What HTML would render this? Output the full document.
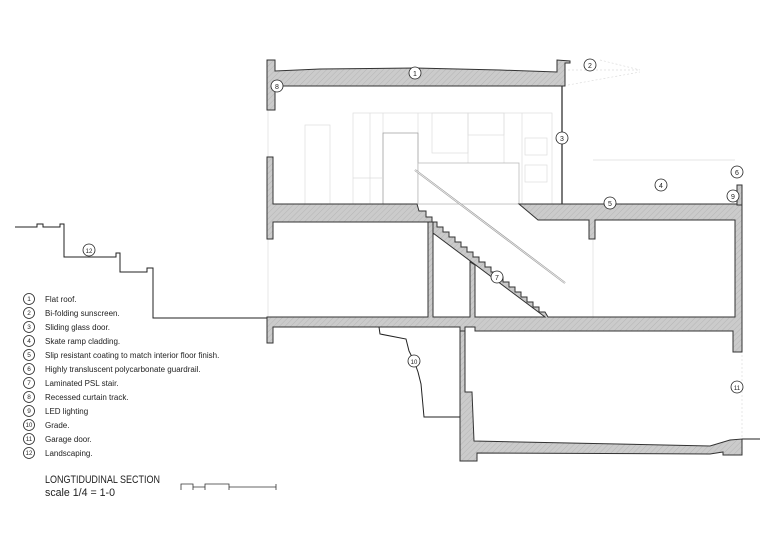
<!DOCTYPE html>
<html><head><meta charset="utf-8"><style>
html,body{margin:0;padding:0;background:#fff;}
svg{display:block;}
text{font-family:"Liberation Sans",sans-serif;}
</style></head><body>
<svg width="780" height="551" viewBox="0 0 780 551" xmlns="http://www.w3.org/2000/svg">
<defs>
<pattern id="h" width="4" height="4" patternUnits="userSpaceOnUse" patternTransform="rotate(45)">
<rect width="4" height="4" fill="#cbcbcb"/><line x1="0" y1="0" x2="0" y2="4" stroke="#b5b5b5" stroke-width="1"/>
</pattern>
</defs>
<g fill="none" stroke="#ddd" stroke-width="0.7">
<rect x="305" y="125" width="25" height="79"/>
<rect x="353" y="113" width="199" height="91"/>
<line x1="370" y1="113" x2="370" y2="204"/><line x1="383" y1="113" x2="383" y2="204"/>
<line x1="418" y1="113" x2="418" y2="204"/><line x1="468" y1="113" x2="468" y2="204"/>
<line x1="504" y1="113" x2="504" y2="204"/><line x1="522" y1="113" x2="522" y2="204"/>
<rect x="383" y="133" width="35" height="71" stroke="#999"/>
<rect x="432" y="113" width="36" height="40"/><rect x="468" y="113" width="36" height="22"/>
<rect x="525" y="138" width="22" height="17"/><rect x="525" y="165" width="22" height="17"/>
<line x1="353" y1="178" x2="383" y2="178"/>
<line x1="268" y1="100" x2="268" y2="320"/><line x1="593" y1="160" x2="735" y2="160"/>
<line x1="593" y1="240" x2="593" y2="318"/>
<line x1="568" y1="70" x2="640" y2="70" stroke-dasharray="2,2"/><line x1="568" y1="85" x2="640" y2="72" stroke-dasharray="2,2"/>
<line x1="600" y1="60" x2="640" y2="70" stroke-dasharray="2,2"/>
<line x1="742" y1="355" x2="742" y2="438" stroke-dasharray="2,2"/>
</g>
<rect x="418" y="163" width="101" height="41" fill="#fff" stroke="#bbb" stroke-width="0.8"/>
<line x1="415" y1="170" x2="565" y2="283" stroke="#999" stroke-width="2"/>
<line x1="415" y1="170" x2="565" y2="283" stroke="#eee" stroke-width="0.8"/>
<g fill="url(#h)" stroke="#333" stroke-width="1">
<path d="M267,60 L275,60 L275,71 L320,69 L415,68 L500,70 L557,72 L557,60 L570,61 L570,63 L565,63 L565,86 L275,86 L275,110 L267,110 Z"/>
<path d="M267,157 L273,157 L273,204 L417,204 L419,211 L426,211 L426,217 L432,217 L432,222 L273,222 L273,239 L267,239 Z"/>
<path d="M519,204 L742,204 L742,352 L733,352 L733,331 L475,331 L475,327 L465,327 L465,331 L460,331 L460,327 L273,327 L273,343 L267,343 L267,317 L428,317 L428,222 L433,222 L433,317 L470,317 L470,262 L475,265 L475,317 L545,317 L433,233 L433,222 L437,222 L437,227 L443,227 L443,232 L449,232 L449,237 L455,237 L455,242 L461,242 L461,247 L467,247 L467,252 L473,252 L473,257 L479,257 L479,262 L485,262 L485,267 L491,267 L491,272 L497,272 L497,277 L503,277 L503,282 L509,282 L509,287 L515,287 L515,292 L521,292 L521,297 L527,297 L527,302 L533,302 L533,307 L539,307 L539,312 L545,312 L548,317 L735,317 L735,220 L595,220 L595,239 L589,239 L589,220 L538,220 Z"/>
<path d="M460,331 L465,331 L465,392 L472,392 L474,441 L710,446 L730,440 L742,439 L742,455 L723,455 L723,452 L710,454 L477,453 L477,461 L460,461 Z"/>
</g>
<line x1="562" y1="86" x2="562" y2="204" stroke="#333" stroke-width="1.3"/>
<rect x="737" y="185" width="5" height="20" fill="url(#h)" stroke="#333"/>
<g fill="none" stroke="#222" stroke-width="1">
<path d="M379,327 L380,334 L406,339 L409,351 L414,361 L418,372 L421,384 L424,417 L460,417"/>
<path d="M742,439 L760,439"/>
<path d="M15,227 L37,227 L37,224 L43,224 L43,227 L60,227 L60,224 L64,224 L64,257 L116,257 L116,253 L120,253 L120,272 L147,272 L147,268 L153,268 L153,318 L267,318"/>
</g>
<g font-size="7" text-anchor="middle" fill="#222">
<g stroke="#222" stroke-width="0.8">
<circle cx="415" cy="73" r="6" fill="#fff"/><circle cx="590" cy="65" r="6" fill="#fff"/><circle cx="562" cy="138" r="6" fill="#fff"/>
<circle cx="661" cy="185" r="6" fill="#fff"/><circle cx="610" cy="203" r="6" fill="#fff"/><circle cx="737" cy="172" r="6" fill="#fff"/>
<circle cx="497" cy="277" r="6" fill="#fff"/><circle cx="277" cy="86" r="6" fill="#fff"/><circle cx="733" cy="196" r="6" fill="#fff"/>
<circle cx="414" cy="361" r="6" fill="#fff"/><circle cx="737" cy="387" r="6" fill="#fff"/><circle cx="89" cy="250" r="6" fill="#fff"/>
</g>
<text x="415" y="76">1</text><text x="590" y="68">2</text><text x="562" y="141">3</text><text x="661" y="188">4</text>
<text x="610" y="206">5</text><text x="737" y="175">6</text><text x="497" y="280">7</text><text x="277" y="89">8</text>
<text x="733" y="199">9</text><text x="414" y="364" font-size="6">10</text><text x="737" y="390" font-size="6">11</text><text x="89" y="253" font-size="6">12</text>
</g>
<g font-size="8" fill="#222">
<g stroke="#222" stroke-width="0.8" fill="#fff">
<circle cx="29" cy="299" r="5.5"/><circle cx="29" cy="313" r="5.5"/><circle cx="29" cy="327" r="5.5"/><circle cx="29" cy="341" r="5.5"/>
<circle cx="29" cy="355" r="5.5"/><circle cx="29" cy="369" r="5.5"/><circle cx="29" cy="383" r="5.5"/><circle cx="29" cy="397" r="5.5"/>
<circle cx="29" cy="411" r="5.5"/><circle cx="29" cy="425" r="5.5"/><circle cx="29" cy="439" r="5.5"/><circle cx="29" cy="453" r="5.5"/>
</g>
<g font-size="6.5" text-anchor="middle">
<text x="29" y="301">1</text><text x="29" y="315">2</text><text x="29" y="329">3</text><text x="29" y="343">4</text>
<text x="29" y="357">5</text><text x="29" y="371">6</text><text x="29" y="385">7</text><text x="29" y="399">8</text>
<text x="29" y="413">9</text><text x="29" y="427" font-size="6">10</text><text x="29" y="441" font-size="6">11</text><text x="29" y="455" font-size="6">12</text>
</g>
<text x="45" y="302">Flat roof.</text>
<text x="45" y="316">Bi-folding sunscreen.</text>
<text x="45" y="330">Sliding glass door.</text>
<text x="45" y="344">Skate ramp cladding.</text>
<text x="45" y="358">Slip resistant coating to match interior floor finish.</text>
<text x="45" y="372">Highly transluscent polycarbonate guardrail.</text>
<text x="45" y="386">Laminated PSL stair.</text>
<text x="45" y="400">Recessed curtain track.</text>
<text x="45" y="414">LED lighting</text>
<text x="45" y="428">Grade.</text>
<text x="45" y="442">Garage door.</text>
<text x="45" y="456">Landscaping.</text>
</g>
<text x="45" y="483" font-size="11" fill="#222" textLength="115" lengthAdjust="spacingAndGlyphs">LONGTIDUDINAL SECTION</text>
<text x="45" y="496" font-size="11" fill="#222" textLength="70" lengthAdjust="spacingAndGlyphs">scale 1/4 = 1-0</text>
<path d="M181,487 L181,484 L193,484 L193,487 L205,487 L205,484 L229,484 L229,487 L276,487 M181,484 L181,490 M193,487 L193,490 M205,487 L205,490 M229,487 L229,490 M276,484 L276,490" fill="none" stroke="#333" stroke-width="0.8"/>
</svg>
</body></html>
